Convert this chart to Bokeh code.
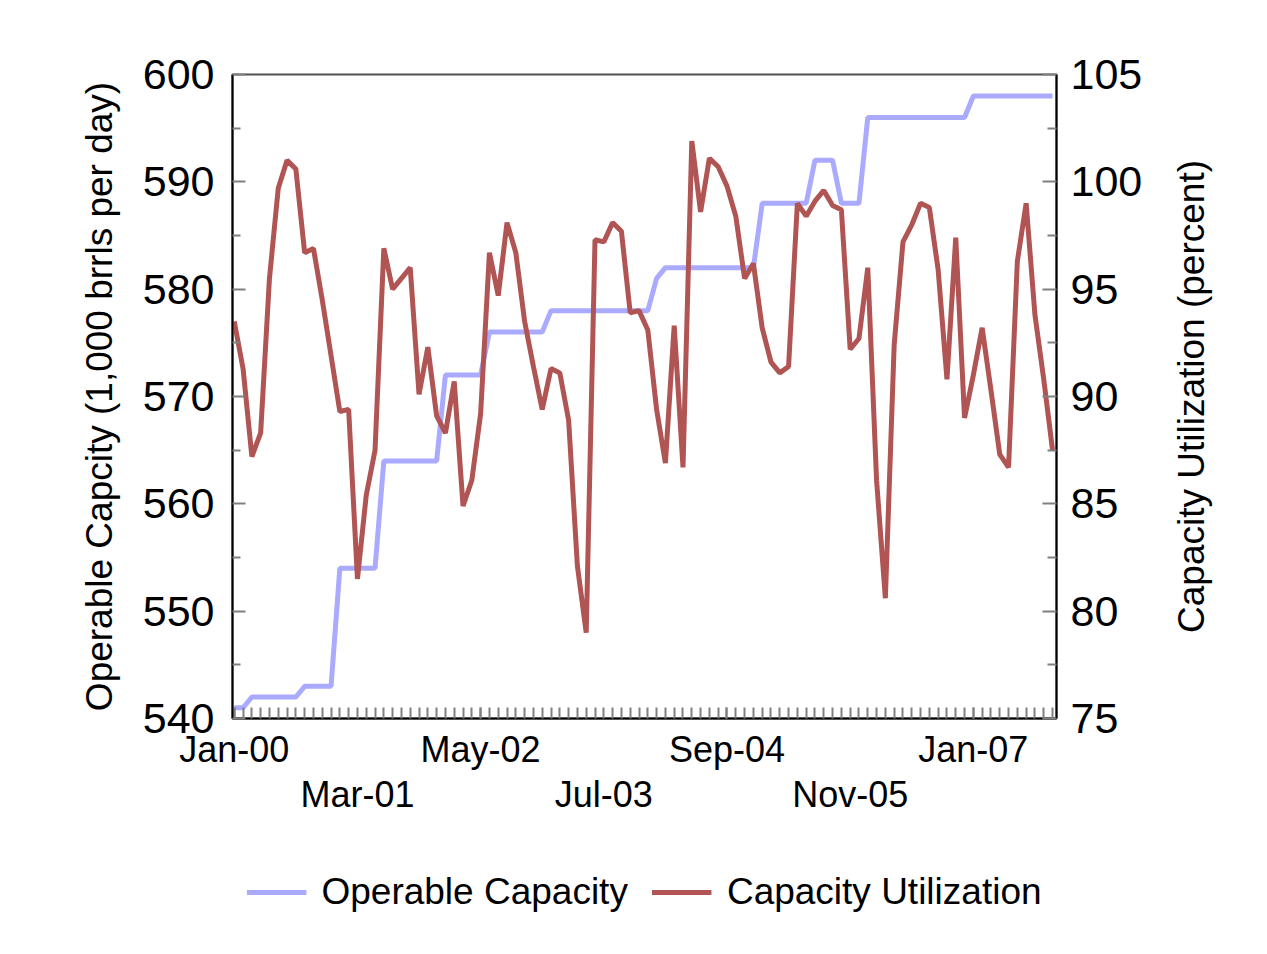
import math
from bokeh.plotting import figure
from bokeh.layouts import row, column
from bokeh.models import Range1d, LinearAxis, FixedTicker, Legend, LegendItem
from bokeh.core.properties import value
from bokeh.embed import file_html
from bokeh.resources import INLINE

# month index: Jan-2000 ... Oct-2007
months = list(range(94))

# Operable capacity (1,000 barrels per day)
capacity = [541, 541,
            542, 542, 542, 542, 542, 542,
            543, 543, 543, 543,
            554, 554, 554, 554, 554,
            564, 564, 564, 564, 564, 564, 564,
            572, 572, 572, 572, 572,
            576, 576, 576, 576, 576, 576, 576,
            578, 578, 578, 578, 578, 578, 578, 578, 578, 578, 578, 578,
            581,
            582, 582, 582, 582, 582, 582, 582, 582, 582, 582, 582,
            588, 588, 588, 588, 588, 588,
            592, 592, 592,
            588, 588, 588,
            596, 596, 596, 596, 596, 596, 596, 596, 596, 596, 596, 596,
            598, 598, 598, 598, 598, 598, 598, 598, 598, 598]

# Capacity utilization (percent)
utilization = [93.5, 91.3, 87.2, 88.3, 95.5, 99.7, 101.0, 100.6, 96.7, 96.9,
               94.5, 91.9, 89.3, 89.4, 81.5, 85.4, 87.5, 96.9, 95.0, 95.5,
               96.0, 90.1, 92.3, 89.1, 88.3, 90.7, 84.9, 86.1, 89.2, 96.7,
               94.7, 98.1, 96.7, 93.5, 91.4, 89.4, 91.3, 91.1, 88.9, 82.1,
               79.0, 97.3, 97.2, 98.1, 97.7, 93.9, 94.0, 93.1, 89.4, 86.9,
               93.3, 86.7, 101.9, 98.6, 101.1, 100.7, 99.8, 98.4, 95.5, 96.2,
               93.2, 91.6, 91.1, 91.4, 99.0, 98.4, 99.1, 99.6, 98.9, 98.7,
               92.2, 92.7, 96.0, 86.1, 80.6, 92.4, 97.2, 98.0, 99.0, 98.8,
               95.9, 90.8, 97.4, 89.0, 91.0, 93.2, 90.3, 87.3, 86.7, 96.3,
               99.0, 93.8, 90.8, 87.5]

row1_ticks = [0, 28, 56, 84]
row1_labels = ["Jan-00", "May-02", "Sep-04", "Jan-07"]
row2_ticks = [14, 42, 70]
row2_labels = ["Mar-01", "Jul-03", "Nov-05"]

left_ticks = [540, 550, 560, 570, 580, 590, 600]
left_minor = [545, 555, 565, 575, 585, 595]
right_ticks = [75, 80, 85, 90, 95, 100, 105]
right_minor = [77.5, 82.5, 87.5, 92.5, 97.5, 102.5]

left_title = "Operable Capcity (1,000 brrls per day)"
right_title = "Capacity Utilization (percent)"
series_names = ["Operable Capacity", "Capacity Utilization"]

FONT = "Liberation Sans"
BLUE = "#AAAAFF"
RED = "#B05454"
LW = 5

TOP_H = 830

p = figure(width=1160, height=TOP_H, output_backend="svg", toolbar_location=None,
           x_range=Range1d(-0.2, 93.45), y_range=Range1d(540, 600),
           x_axis_location=None, y_axis_location=None,
           min_border_left=232, min_border_right=104,
           min_border_top=74, min_border_bottom=TOP_H - 718)
p.extra_y_ranges = {"util": Range1d(75, 105)}
p.grid.visible = False
p.background_fill_color = "white"
p.border_fill_color = "white"
p.outline_line_color = "#505050"
p.outline_line_width = 2


def style_axis(ax, tick_in, minor_in, label_size, standoff):
    ax.axis_line_color = "black"
    ax.axis_line_width = 2
    ax.major_tick_in = tick_in
    ax.major_tick_out = 0
    ax.minor_tick_in = minor_in
    ax.minor_tick_out = 0
    ax.major_tick_line_color = "#808080"
    ax.minor_tick_line_color = "#808080"
    ax.major_tick_line_width = 2
    ax.minor_tick_line_width = 2
    ax.major_label_text_font = FONT
    ax.major_label_text_font_size = label_size
    ax.major_label_text_color = "black"
    ax.major_label_standoff = standoff
    ax.axis_label_text_font = FONT
    ax.axis_label_text_font_size = "37px"
    ax.axis_label_text_font_style = "normal"
    ax.axis_label_text_color = "black"


ly = LinearAxis(ticker=FixedTicker(ticks=left_ticks, minor_ticks=left_minor),
                axis_label=left_title)
style_axis(ly, 13, 8, "43px", 18)
ly.axis_label_standoff = 20
p.add_layout(ly, "left")

ry = LinearAxis(y_range_name="util",
                ticker=FixedTicker(ticks=right_ticks, minor_ticks=right_minor))
style_axis(ry, 14, 9, "43px", 14)
p.add_layout(ry, "right")

bx1 = LinearAxis(ticker=FixedTicker(ticks=row1_ticks, minor_ticks=months),
                 major_label_overrides=dict(zip(row1_ticks, row1_labels)))
style_axis(bx1, 11, 11, "36px", 10)
p.add_layout(bx1, "below")

bx2 = LinearAxis(ticker=FixedTicker(ticks=row2_ticks),
                 major_label_overrides=dict(zip(row2_ticks, row2_labels)))
style_axis(bx2, 0, 0, "36px", 1)
bx2.axis_line_color = None
bx2.major_tick_line_color = None
bx2.minor_tick_line_color = None
p.add_layout(bx2, "below")

p.line(months, capacity, line_color=BLUE, line_width=LW)
p.line(months, utilization, y_range_name="util", line_color=RED, line_width=LW)

# right-hand axis title, reading bottom to top (frame aligned with p's frame)
q = figure(width=1267 - 1160, height=TOP_H, output_backend="svg", toolbar_location=None,
           x_range=Range1d(0, 107), y_range=Range1d(0, 1),
           x_axis_location=None, y_axis_location=None,
           min_border_left=0, min_border_right=0,
           min_border_top=74, min_border_bottom=TOP_H - 718)
q.grid.visible = False
q.outline_line_color = None
q.background_fill_color = "white"
q.border_fill_color = "white"
q.text(x=[31], y=[0.5], text=[right_title], angle=math.pi / 2,
       text_align="center", text_baseline="middle",
       text_font=value(FONT), text_font_size="37px", text_color="black")

# legend strip below the chart (its series lie outside this strip's view)
lg = figure(width=1267, height=954 - TOP_H, output_backend="svg", toolbar_location=None,
            x_range=Range1d(0, 1), y_range=Range1d(0, 1),
            x_axis_location=None, y_axis_location=None,
            min_border_left=232, min_border_right=211,
            min_border_top=0, min_border_bottom=0)
lg.grid.visible = False
lg.outline_line_color = None
lg.background_fill_color = "white"
lg.border_fill_color = "white"
k1 = lg.line(months, capacity, line_color=BLUE, line_width=LW)
k2 = lg.line(months, utilization, line_color=RED, line_width=LW)
legend = Legend(items=[LegendItem(label=series_names[0], renderers=[k1]),
                       LegendItem(label=series_names[1], renderers=[k2])],
                orientation="horizontal", location="center",
                label_text_font=FONT, label_text_font_size="37px",
                label_text_color="black",
                glyph_width=60, glyph_height=30, label_standoff=15, spacing=24,
                padding=0, margin=0, border_line_color=None,
                background_fill_alpha=0)
lg.add_layout(legend, "center")

layout = column(row(p, q, spacing=0), lg, spacing=0)
open("out.html", "w").write(file_html(layout, INLINE))
